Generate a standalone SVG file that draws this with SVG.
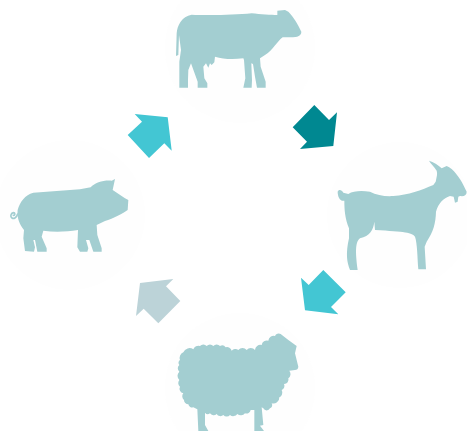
<svg xmlns="http://www.w3.org/2000/svg" width="467" height="431" viewBox="0 0 467 431">
<style>
.halo{fill:#fefefe}
.animal{fill:#a3ced1}
.tail{fill:none;stroke:#a3ced1;stroke-width:5;stroke-linecap:round}
.cyan{fill:#43c6d3}
.teal{fill:#008891}
.pale{fill:#bcd3d8}
</style>
<rect width="467" height="431" fill="#ffffff"/>
<g id="cow">
<circle class="halo" cx="240" cy="48" r="75"/>
<path class="animal" transform="translate(160 0) scale(.33333)" d="M48 168 L50 100 C52 75 65 50 95 44 C130 46 220 46 275 40 C300 43 335 45 352 45 L352 32 L375 30 L385 35 C400 50 415 75 424 95 C424 108 412 113 385 112 L368 112 C350 125 340 150 315 165 L300 175 L302 200 L317 245 L317 263 L291 263 L285 230 L279 192 L274 190 L276 240 L275 263 L250 263 L256 235 L252 180 L250 175 C220 178 190 178 165 170 L163 187 L155 195 L150 190 L145 203 L138 190 L130 200 L133 235 L142 250 L142 263 L113 263 L113 245 L93 190 L85 210 L84 240 L84 263 L58 263 L58 185 L63 150 L57 105 L55 165 Z"/>
</g>
<g id="goat">
<circle class="halo" cx="400" cy="215" r="73"/>
<path class="animal" transform="translate(325 140) scale(.33333)" d="M312 62 C325 65 340 75 350 85 L365 78 C385 85 405 115 415 135 L425 155 C425 165 418 170 405 168 L400 170 L398 185 L390 188 L386 170 L375 168 C355 175 340 190 333 215 C332 250 325 275 305 305 L299 320 L303 388 L280 388 C277 350 277 310 270 290 C262 278 240 275 150 270 L148 245 C145 270 135 288 105 295 C92 305 90 330 98 390 L75 390 C65 365 62 340 72 295 L72 265 C60 235 58 210 58 182 C45 185 38 170 38 155 C42 147 50 150 55 158 L70 162 C85 152 110 152 135 155 C155 165 180 170 205 168 C250 165 290 150 325 135 L332 125 C335 110 338 100 335 92 C328 80 318 72 312 62 Z"/>
</g>
<g id="sheep">
<circle class="halo" cx="240" cy="388" r="75"/>
<path class="animal" transform="translate(160 310) scale(.33333)" d="M60 150 A18 18 0 0 1 70 127 A20 20 0 0 1 100 118 A16 16 0 0 1 120 108 A13 13 0 0 1 140 108 A13 13 0 0 1 160 108 A13 13 0 0 1 180 108 A13 13 0 0 1 197 112 A14 14 0 0 1 215 122 A14 14 0 0 1 235 120 A16 16 0 0 1 260 120 A16 16 0 0 1 285 120 A16 16 0 0 1 305 105 A16 16 0 0 1 325 92 A16 16 0 0 1 345 78 A12 12 0 0 1 362 72 L385 90 L410 108 L405 130 L415 170 Q414 180 405 180 L388 182 A16 16 0 0 1 385 205 A13 13 0 0 1 372 222 A13 13 0 0 1 365 240 A16 16 0 0 1 358 262 A18 18 0 0 1 335 280 A10 10 0 0 1 330 295 A11 11 0 0 1 310 295 L305 292 L310 345 L300 347 L312 363 L283 363 L283 300 L272 300 A13 13 0 0 1 255 310 A16 16 0 0 1 232 312 A15 15 0 0 1 210 315 A13 13 0 0 1 190 315 A13 13 0 0 1 170 312 A13 13 0 0 1 150 310 A11 11 0 0 1 135 308 L135 345 L145 363 L115 363 L112 298 L100 292 A12 12 0 0 1 85 283 A13 13 0 0 1 72 270 A14 14 0 0 1 70 250 A14 14 0 0 1 60 230 A14 14 0 0 1 58 210 A17 17 0 0 1 58 185 A13 13 0 0 1 58 165 A10 10 0 0 1 60 150 Z"/>
</g>
<g id="pig">
<circle class="halo" cx="70" cy="215" r="75"/>
<g transform="translate(0 160) scale(.33333)">
<path class="animal" d="M100 98 L240 88 L272 82 C285 68 310 60 335 62 L345 57 L338 90 L375 115 L385 120 L383 150 C370 160 340 175 315 183 L290 195 L292 225 L305 265 L305 275 L280 275 L268 240 L258 240 L265 265 L262 275 L240 275 L232 262 L234 210 C200 215 165 217 130 212 L125 230 L140 265 L140 275 L112 275 L105 240 L100 240 L105 262 L102 275 L75 273 L70 235 L72 210 C60 195 50 175 53 150 C60 125 75 105 100 98 Z"/>
<path class="tail" d="M53 162 C50 172 42 178 36 174 C30 170 32 160 40 158 C46 158 46 166 40 166"/>
</g>
</g>
<g id="connectors">
<polygon class="cyan" points="134.7,114 167.7,117.3 171.7,150.7 164.3,143.3 149,158 127.7,135 142,121.7"/>
<polygon class="teal" points="314.3,105 329,120 337,112.3 333.3,146 300,149 307,141.7 292.7,127.3"/>
<polygon class="cyan" points="323.3,270 345.7,292.3 331,307 338.3,314.3 305,310.3 301,277.7 308.7,285"/>
<polygon class="pale" points="173.3,279 166,286.3 180.3,301 158.3,323.3 143.7,308.7 136,316 140,283"/>
</g>
</svg>
